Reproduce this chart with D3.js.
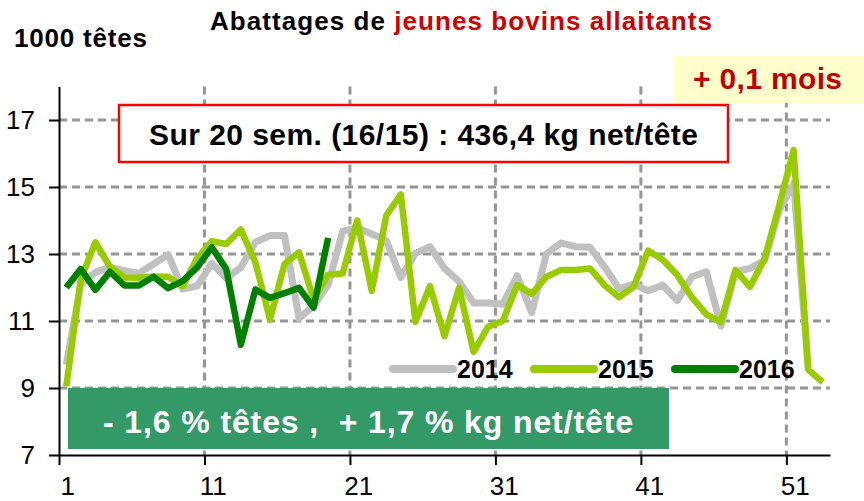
<!DOCTYPE html>
<html>
<head>
<meta charset="utf-8">
<script src="https://cdn.jsdelivr.net/npm/d3@7"></script>
<style>
  body { margin: 0; background: #fff; }
  svg { display: block; font-family: "Liberation Sans", Arial, sans-serif; }
</style>
</head>
<body>
<div id="chart"></div>
<script>
// data (1000 head per week)
const years = ["2014", "2015", "2016"];
const colors = ["#c0c0c0", "#99cc00", "#008000"];

const values2014 = [9.7, 12.1, 12.45, 12.6, 12.5, 12.42, 12.7, 12.98, 11.95, 12.05,
  12.72, 12.28, 12.6, 13.35, 13.55, 13.55, 11.08, 11.45, 12.08, 13.68,
  13.78, 13.6, 13.4, 12.3, 13.02, 13.22, 12.57, 12.18, 11.54, 11.54,
  11.5, 12.35, 11.25, 13.0, 13.33, 13.22, 13.2, 12.62, 11.96, 12.1,
  11.9, 12.07, 11.61, 12.32, 12.47, 10.85, 12.47, 12.57, 12.8, 14.3,
  15.1, 9.6];
const values2015 = [9.05, 12.25, 13.35, 12.62, 12.3, 12.29, 12.33, 12.32, 12.04, 12.87,
  13.38, 13.3, 13.73, 12.75, 11.05, 12.7, 13.05, 11.65, 12.38, 12.42,
  14.0, 11.9, 14.15, 14.78, 10.98, 12.04, 10.55, 11.99, 10.08, 10.83,
  11.0, 12.07, 11.81, 12.32, 12.52, 12.52, 12.57, 12.07, 11.71, 12.02,
  13.1, 12.83, 12.37, 11.71, 11.2, 10.97, 12.52, 12.02, 12.85, 14.44,
  16.1, 9.55, 9.17];
const values2016 = [12.0, 12.55, 11.93, 12.47, 12.06, 12.06, 12.32, 11.98, 12.19, 12.6,
  13.2, 12.55, 10.29, 11.94, 11.69, 11.83, 11.99, 11.4, 13.48];

const weekTicks = [1, 11, 21, 31, 41, 51];
const yTicks = [7, 9, 11, 13, 15, 17];
const gridY = [9, 11, 13, 15, 17];
const gridWeeks = [11, 21, 31, 41, 51];

const titleParts = ["Abattages de ", "jeunes bovins allaitants"];
const unitLabel = "1000 têtes";
const noteRed = "Sur 20 sem. (16/15) : 436,4 kg net/tête";
const noteYellow = "+ 0,1 mois";
const noteGreen = "- 1,6 % têtes ,  + 1,7 % kg net/tête";

// canvas
const width = 864;
const height = 501;
const plot = { left: 59, right: 830, top: 86.5, bottom: 455 };

const svg = d3.select("#chart")
  .append("svg")
    .attr("width", width)
    .attr("height", height);

// scales: one category per week, points sit in the middle of each category
const x = d3.scaleLinear().domain([0.5, 53.5]).range([plot.left, plot.right]);
const y = d3.scaleLinear().domain([7, 18]).range([plot.bottom, plot.top]);

// grid
const grid = svg.append("g")
  .attr("stroke", "#969696")
  .attr("stroke-width", 3)
  .attr("stroke-dasharray", "8,5");

grid.selectAll(".h").data(gridY).enter()
  .append("line")
    .attr("class", "h")
    .attr("x1", plot.left).attr("x2", plot.right)
    .attr("y1", d => y(d)).attr("y2", d => y(d));

grid.selectAll(".v").data(gridWeeks).enter()
  .append("line")
    .attr("class", "v")
    .attr("x1", d => x(d - 0.5)).attr("x2", d => x(d - 0.5))
    .attr("y1", plot.top).attr("y2", plot.bottom);

// series
const series = [values2014, values2015, values2016];
const line = d3.line()
  .x((d, i) => x(i + 1))
  .y(d => y(d));

svg.append("g").selectAll("path").data(series).enter()
  .append("path")
    .attr("d", line)
    .attr("fill", "none")
    .attr("stroke", (d, i) => colors[i])
    .attr("stroke-width", (d, i) => i === 0 ? 7 : 6.5)
    .attr("stroke-linejoin", "round")
    .attr("stroke-linecap", "butt");

// axes
const xAxis = d3.axisBottom(x)
  .tickValues(weekTicks.map(d => d - 0.5))
  .tickSize(10)
  .tickSizeOuter(0)
  .tickFormat(d => d + 0.5);

const gx = svg.append("g")
  .attr("transform", `translate(0,${plot.bottom})`)
  .call(xAxis);
gx.selectAll("text")
  .attr("x", (x(1) - x(0.5)) + 1)
  .attr("y", 22)
  .attr("dy", "0.71em")
  .attr("font-size", "26px")
  .attr("fill", "#000");

const yAxis = d3.axisLeft(y)
  .tickValues(yTicks)
  .tickSize(10)
  .tickSizeOuter(0)
  .tickPadding(14);

const gy = svg.append("g")
  .attr("transform", `translate(${plot.left},0)`)
  .call(yAxis);
gy.selectAll("text")
  .attr("font-size", "26px")
  .attr("fill", "#000");

svg.selectAll(".domain, .tick line")
  .attr("stroke", "#000")
  .attr("stroke-width", 2);
gx.attr("font-family", null);
gy.attr("font-family", null);

// note boxes
svg.append("rect")
  .attr("x", 119).attr("y", 105)
  .attr("width", 609).attr("height", 57)
  .attr("fill", "#fff")
  .attr("stroke", "#ff0000")
  .attr("stroke-width", 2.5);
svg.append("text")
  .attr("x", 423.5).attr("y", 145)
  .attr("text-anchor", "middle")
  .attr("font-size", "30px")
  .attr("font-weight", "bold")
  .attr("textLength", 549)
  .attr("lengthAdjust", "spacing")
  .text(noteRed);

svg.append("rect")
  .attr("x", 673).attr("y", 56)
  .attr("width", 191).attr("height", 47)
  .attr("fill", "#ffffcc");
svg.append("text")
  .attr("x", 767.5).attr("y", 89)
  .attr("text-anchor", "middle")
  .attr("font-size", "30px")
  .attr("font-weight", "bold")
  .attr("fill", "#c00000")
  .attr("textLength", 149)
  .attr("lengthAdjust", "spacing")
  .text(noteYellow);

svg.append("rect")
  .attr("x", 68).attr("y", 388)
  .attr("width", 601).attr("height", 61)
  .attr("fill", "#339966");
svg.append("text")
  .attr("x", 368).attr("y", 433)
  .attr("text-anchor", "middle")
  .attr("font-size", "32px")
  .attr("font-weight", "bold")
  .attr("fill", "#fff")
  .style("white-space", "pre")
  .attr("textLength", 530)
  .attr("lengthAdjust", "spacing")
  .text(noteGreen);

// legend
const legendX = [393, 534, 675];
const legend = svg.append("g").selectAll("g").data(years).enter()
  .append("g")
    .attr("transform", (d, i) => `translate(${legendX[i]},369)`);
legend.append("line")
  .attr("x1", 0).attr("x2", 60)
  .attr("stroke", (d, i) => colors[i])
  .attr("stroke-width", 8)
  .attr("stroke-linecap", "round");
legend.append("text")
  .attr("x", 64).attr("y", 9)
  .attr("font-size", "25px")
  .attr("font-weight", "bold")
  .text(d => d);

// titles
const title = svg.append("text")
  .attr("x", 210).attr("y", 30)
  .attr("font-size", "26px")
  .attr("font-weight", "bold")
  .attr("textLength", 502)
  .attr("lengthAdjust", "spacing");
title.append("tspan").attr("fill", "#000").text(titleParts[0]);
title.append("tspan").attr("fill", "#d00000").text(titleParts[1]);

svg.append("text")
  .attr("x", 14).attr("y", 47)
  .attr("font-size", "26px")
  .attr("font-weight", "bold")
  .attr("textLength", 133)
  .attr("lengthAdjust", "spacing")
  .text(unitLabel);
</script>
</body>
</html>
